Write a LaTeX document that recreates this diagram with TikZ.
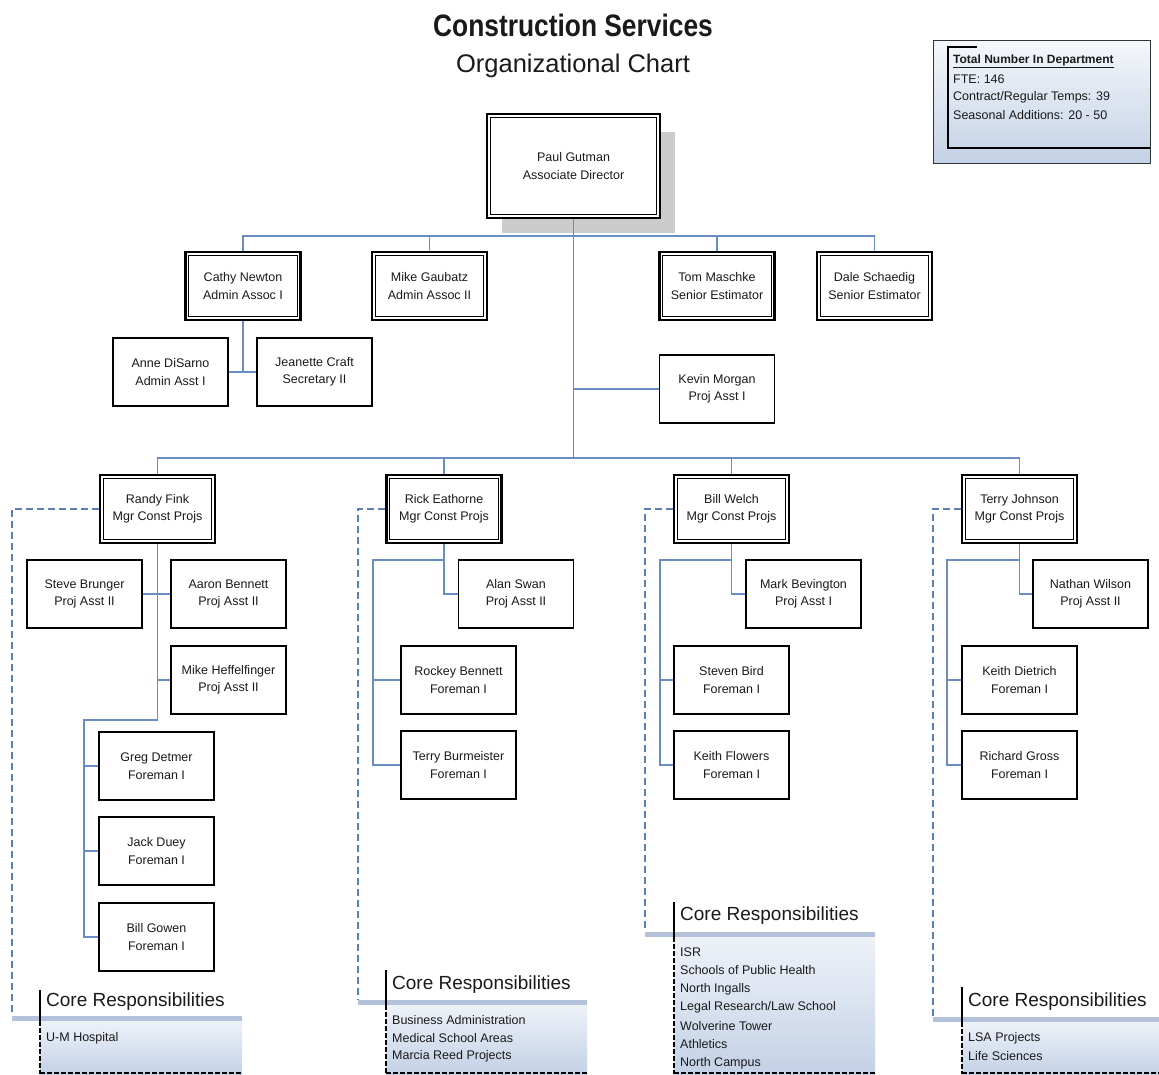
\documentclass[tikz,border=0pt]{standalone}
\usepackage{fontspec}
\usepackage{graphicx}
\setmainfont{Liberation Sans}
\usetikzlibrary{calc}
\definecolor{conn}{HTML}{6A8CC4}
\definecolor{dashblue}{HTML}{5B7FB9}
\definecolor{barblue}{HTML}{B3C2DA}
\definecolor{boxtop}{HTML}{EEF2F8}
\definecolor{boxbot}{HTML}{C3D1E6}
\definecolor{txt}{HTML}{1A1A1A}
\begin{document}
\begin{tikzpicture}[x=1pt,y=-1pt,
  box/.style={draw=black, line width=1.4pt, fill=white, minimum width=115pt, minimum height=68pt,
    align=center, inner sep=2pt, text=txt, font=\fontsize{12.5}{17.5}\selectfont},
  dbl/.style={box, line width=2.6pt,
    path picture={\draw[line width=0.9pt] ([shift={(3.3pt,-3.3pt)}]path picture bounding box.north west) rectangle ([shift={(-3.3pt,3.3pt)}]path picture bounding box.south east);}},
  cn/.style={draw=conn, line width=1.4pt},
  dsh/.style={draw=dashblue, line width=2.8pt, dash pattern=on 7pt off 4pt},
  crtitle/.style={anchor=west, inner sep=0pt, text=txt, font=\fontsize{19}{22}\selectfont},
  crtext/.style={anchor=west, inner sep=0pt, text=txt, font=\fontsize{12.5}{17.5}\selectfont},
  bar/.style={fill=barblue, draw=none},
  crbody/.style={top color=boxtop, bottom color=boxbot, draw=none},
  crline/.style={draw=black, line width=2.2pt},
  crdash/.style={draw=black, line width=1.3pt, dash pattern=on 5pt off 2pt}
]
\useasboundingbox[fill=white] (0,0) rectangle (1159,1074);

% titles
\node[inner sep=0pt, text=txt] (title) at (573,25) {\scalebox{0.85}[1]{\fontsize{31}{34}\selectfont\bfseries Construction Services}};
\node[inner sep=0pt, text=txt, font=\fontsize{25.5}{28}\selectfont] (subtitle) at (573,66) {Organizational Chart};

% department totals box
\shade[top color=boxtop!60!white, bottom color=boxbot, draw=black!80, line width=1pt] (933,40) rectangle (1150,163);
\draw[black, line width=1.4pt] (977,47) -- (948,47) -- (948,148) -- (1150,148);
\node[crtext, font=\fontsize{12}{17}\selectfont\bfseries] (tot) at (953,61) {\underline{Total Number In Department}};
\node[crtext] (fte) at (953,79) {FTE: 146};
\node[crtext] (temps) at (953,97) {Contract/Regular Temps: 39};
\node[crtext] (seas) at (953,115) {Seasonal Additions: 20 - 50};

% director
\fill[black!20] (502,132) rectangle (675,233);
\node[dbl, minimum width=173pt, minimum height=104pt] (paul) at (573.5,166) {Paul Gutman\\Associate Director};

% row 2
\node[dbl] (cathy) at (243,286) {Cathy Newton\\Admin Assoc I};
\node[dbl] (mike) at (429.5,286) {Mike Gaubatz\\Admin Assoc II};
\node[dbl] (tom) at (717,286) {Tom Maschke\\Senior Estimator};
\node[dbl] (dale) at (874.5,286) {Dale Schaedig\\Senior Estimator};

\node[box] (anne) at (170.5,372) {Anne DiSarno\\Admin Asst I};
\node[box] (jean) at (314.5,372) {Jeanette Craft\\Secretary II};
\node[box] (kevin) at (717,389) {Kevin Morgan\\Proj Asst I};

% managers
\node[dbl] (randy) at (157.5,509) {Randy Fink\\Mgr Const Projs};
\node[dbl] (rick) at (444,509) {Rick Eathorne\\Mgr Const Projs};
\node[dbl] (bill) at (731.5,509) {Bill Welch\\Mgr Const Projs};
\node[dbl] (terryj) at (1019.5,509) {Terry Johnson\\Mgr Const Projs};

% Randy's team
\node[box] (steve) at (84.5,594) {Steve Brunger\\Proj Asst II};
\node[box] (aaron) at (228.5,594) {Aaron Bennett\\Proj Asst II};
\node[box] (mikeh) at (228.5,680) {Mike Heffelfinger\\Proj Asst II};
\node[box] (greg) at (156.5,766) {Greg Detmer\\Foreman I};
\node[box] (jack) at (156.5,851) {Jack Duey\\Foreman I};
\node[box] (gowen) at (156.5,937) {Bill Gowen\\Foreman I};

% Rick's team
\node[box] (alan) at (516,594) {Alan Swan\\Proj Asst II};
\node[box] (rockey) at (458.5,680) {Rockey Bennett\\Foreman I};
\node[box] (terryb) at (458.5,765) {Terry Burmeister\\Foreman I};

% Bill's team
\node[box] (mark) at (803.5,594) {Mark Bevington\\Proj Asst I};
\node[box] (steven) at (731.5,680) {Steven Bird\\Foreman I};
\node[box] (keith) at (731.5,765) {Keith Flowers\\Foreman I};

% Terry's team
\node[box] (nathan) at (1090.5,594) {Nathan Wilson\\Proj Asst II};
\node[box] (dietrich) at (1019.5,680) {Keith Dietrich\\Foreman I};
\node[box] (gross) at (1019.5,765) {Richard Gross\\Foreman I};

% connectors top
\coordinate (bus1) at (573.5,236);
\coordinate (bus2) at (573.5,458);
\draw[cn] (paul.south) -- (bus2);
\draw[cn] (cathy.north) |- (bus1) -| (dale.north);
\draw[cn] (mike.north) -- (mike.north |- bus1);
\draw[cn] (tom.north) -- (tom.north |- bus1);
\draw[cn] (kevin.west) -- (kevin.west -| bus1);
\draw[cn] (cathy.south) -- (cathy.south |- anne.east);
\draw[cn] (anne.east) -- (jean.west);
\draw[cn] (randy.north) |- (bus2) -| (terryj.north);
\draw[cn] (rick.north) -- (rick.north |- bus2);
\draw[cn] (bill.north) -- (bill.north |- bus2);

% Randy connectors
\coordinate (r1) at (157.5,720);
\coordinate (r2) at (84,720);
\draw[cn] (randy.south) -- (r1) -- (r2) |- (gowen.west);
\draw[cn] (steve.east) -- (aaron.west);
\draw[cn] (r1 |- mikeh.west) -- (mikeh.west);
\draw[cn] (r2 |- greg.west) -- (greg.west);
\draw[cn] (r2 |- jack.west) -- (jack.west);

% Rick connectors
\coordinate (k1) at (373,560);
\draw[cn] (rick.south) |- (alan.west);
\draw[cn] (rick.south |- k1) -- (k1) |- (terryb.west);
\draw[cn] (k1 |- rockey.west) -- (rockey.west);

% Bill connectors
\coordinate (w1) at (660,560);
\draw[cn] (bill.south) |- (mark.west);
\draw[cn] (bill.south |- w1) -- (w1) |- (keith.west);
\draw[cn] (w1 |- steven.west) -- (steven.west);

% Terry connectors
\coordinate (t1) at (947,560);
\draw[cn] (terryj.south) |- (nathan.west);
\draw[cn] (terryj.south |- t1) -- (t1) |- (gross.west);
\draw[cn] (t1 |- dietrich.west) -- (dietrich.west);

% core responsibilities 1
\shade[crbody] (40,1021) rectangle (242,1074);
\fill[bar] (12,1016) rectangle (242,1021);
\draw[crline] (40,990) -- (40,1021);
\draw[crdash] (40,1021) -- (40,1074);
\draw[crdash] (40,1073) -- (242,1073);
\node[crtitle] (cr1) at (46,1002) {Core Responsibilities};
\node[crtext] (cr1a) at (46,1038) {U-M Hospital};
\coordinate (d1) at (12,1016);

% core responsibilities 2
\shade[crbody] (386,1005) rectangle (587,1074);
\fill[bar] (358,1000) rectangle (587,1005);
\draw[crline] (386,970) -- (386,1005);
\draw[crdash] (386,1005) -- (386,1074);
\draw[crdash] (386,1073) -- (587,1073);
\node[crtitle] (cr2) at (392,985) {Core Responsibilities};
\node[crtext] (cr2a) at (392,1020) {Business Administration};
\node[crtext] (cr2b) at (392,1038) {Medical School Areas};
\node[crtext] (cr2c) at (392,1056) {Marcia Reed Projects};
\coordinate (d2) at (358,1000);

% core responsibilities 3
\shade[crbody] (674,937) rectangle (875,1074);
\fill[bar] (645,932) rectangle (875,937);
\draw[crline] (674,902) -- (674,937);
\draw[crdash] (674,937) -- (674,1074);
\draw[crdash] (674,1073) -- (875,1073);
\node[crtitle] (cr3) at (680,916) {Core Responsibilities};
\node[crtext] (cr3a) at (680,952) {ISR};
\node[crtext] (cr3b) at (680,970.5) {Schools of Public Health};
\node[crtext] (cr3c) at (680,989) {North Ingalls};
\node[crtext] (cr3d) at (680,1007.5) {Legal Research/Law School};
\node[crtext] (cr3e) at (680,1026) {Wolverine Tower};
\node[crtext] (cr3f) at (680,1044.5) {Athletics};
\node[crtext] (cr3g) at (680,1063) {North Campus};
\coordinate (d3) at (645,932);

% core responsibilities 4
\shade[crbody] (962,1022) rectangle (1159,1074);
\fill[bar] (933,1017) rectangle (1159,1022);
\draw[crline] (962,987) -- (962,1022);
\draw[crdash] (962,1022) -- (962,1074);
\draw[crdash] (962,1073) -- (1159,1073);
\node[crtitle] (cr4) at (968,1002) {Core Responsibilities};
\node[crtext] (cr4a) at (968,1038) {LSA Projects};
\node[crtext] (cr4b) at (968,1056) {Life Sciences};
\coordinate (d4) at (933,1017);

% dashed links
\draw[dsh] (randy.west) -| (d1);
\draw[dsh] (rick.west) -| (d2);
\draw[dsh] (bill.west) -| (d3);
\draw[dsh] (terryj.west) -| (d4);
\end{tikzpicture}
\end{document}
